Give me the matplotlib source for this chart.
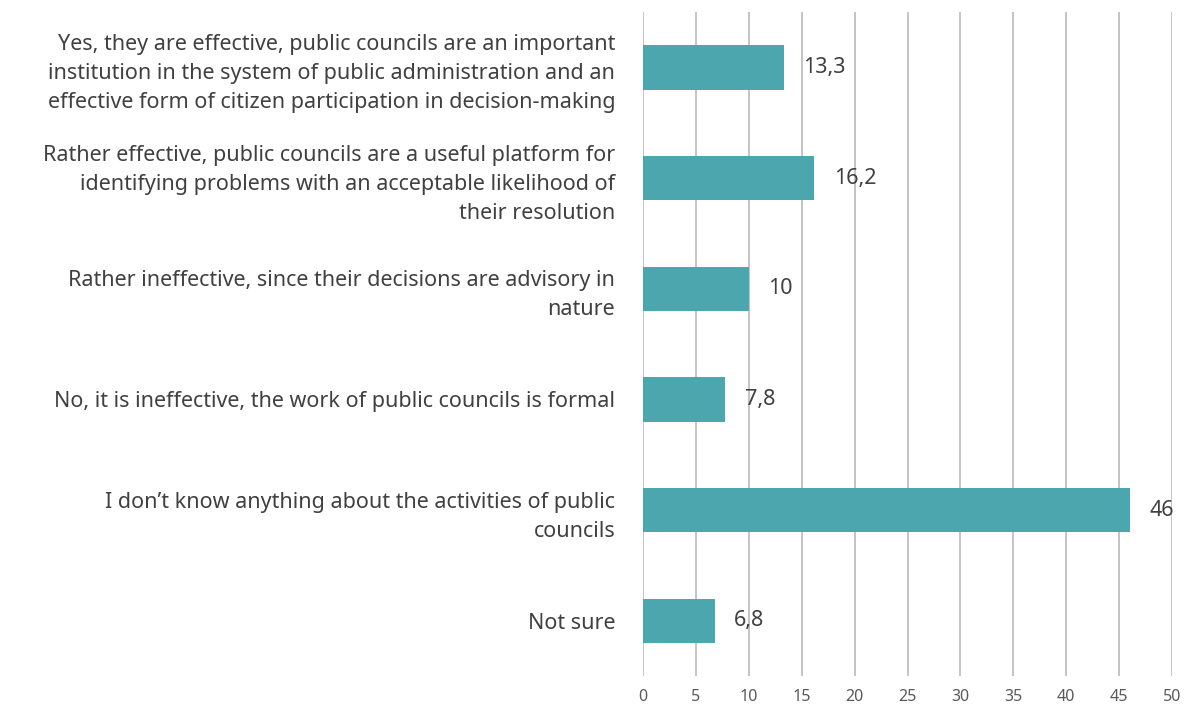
import matplotlib.pyplot as plt
import matplotlib.ticker as ticker

plt.rcParams['font.family'] = ['Noto Sans', 'DejaVu Sans']

labels = [
    'Yes, they are effective, public councils are an important\n'
    'institution in the system of public administration and an\n'
    'effective form of citizen participation in decision-making',
    'Rather effective, public councils are a useful platform for\n'
    'identifying problems with an acceptable likelihood of\n'
    'their resolution',
    'Rather ineffective, since their decisions are advisory in\n'
    'nature',
    'No, it is ineffective, the work of public councils is formal',
    'I don\u2019t know anything about the activities of public\n'
    'councils',
    'Not sure',
]
values = [13.3, 16.2, 10, 7.8, 46, 6.8]
value_text = ['13,3', '16,2', '10', '7,8', '46', '6,8']

bar_color = '#4BA6AE'
text_color = '#404040'

fig = plt.figure(figsize=(11.84, 7.08), dpi=100)
ax = fig.add_axes([0.543, 0.045, 0.447, 0.938])

pos = list(range(len(values)))
ax.barh(pos, values, height=0.4, color=bar_color, zorder=2)
ax.set_ylim(len(values) - 0.5, -0.5)
ax.set_xlim(0, 50)

for p, v, t in zip(pos, values, value_text):
    ax.annotate(t, (v, p), xytext=(14, 0), textcoords='offset points',
                va='center', ha='left', fontsize=15.5, color=text_color)

ax.set_yticks(pos)
ax.set_yticklabels(labels, fontsize=15.5, color=text_color, ha='right',
                   linespacing=1.5)
ax.tick_params(axis='y', length=0, pad=20)

ax.xaxis.set_major_locator(ticker.MultipleLocator(5))
ax.tick_params(axis='x', length=0, pad=9, labelsize=11.5, labelcolor='#595959')
ax.grid(axis='x', color='#BFBFBF', linewidth=1.3, zorder=0)

for s in ax.spines.values():
    s.set_visible(False)

fig.savefig('out.png', dpi=100)
